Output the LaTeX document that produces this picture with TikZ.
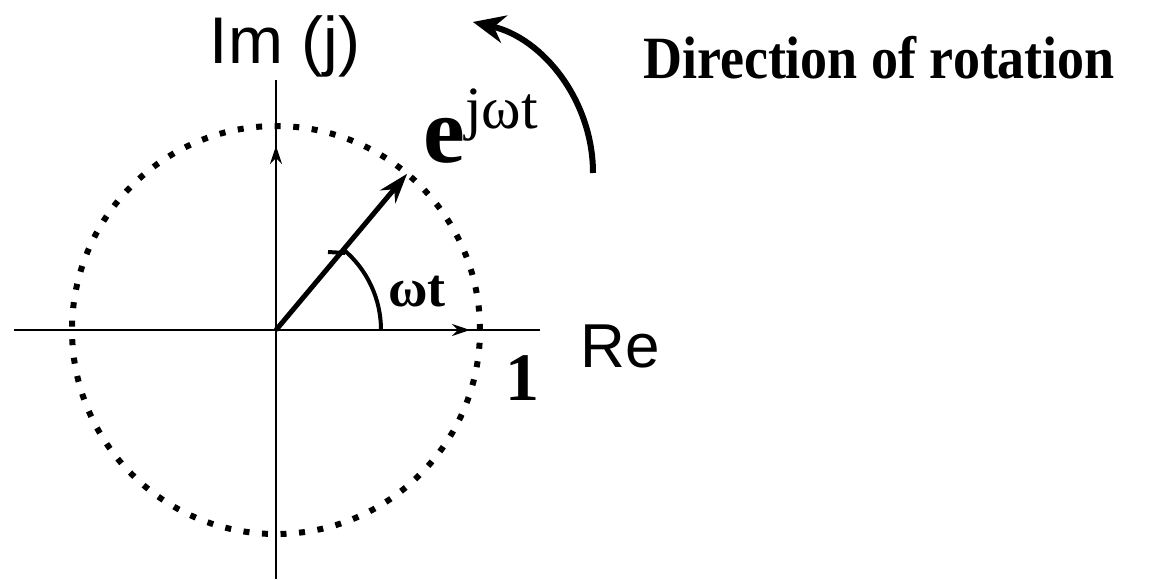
\documentclass[tikz,border=0pt]{standalone}
\usepackage{fontspec}
\usepackage{graphicx}
\usetikzlibrary{arrows.meta}
\newfontfamily\labelsans{Liberation Sans}
\newfontfamily\labelserif{Liberation Serif}
\tikzset{
  axis line/.style={
    line width=1.2pt
  },
  axis tip/.style={
    -{Stealth[length=9pt,width=6pt]},
    line width=1.2pt
  },
  phasor/.style={
    -{Stealth[length=15pt,width=10pt]},
    line width=2.5pt
  },
  unit circle/.style={
    line width=3pt,
    dash pattern=on 3pt off 6.288pt
  },
  angle arc/.style={
    line width=2pt
  },
  turn arrow/.style={
    -{Stealth[length=16pt,width=14pt]},
    line width=3pt
  },
  sans label/.style={
    inner sep=0pt,
    font=\labelsans\fontsize{33}{33}\selectfont
  },
  serif label/.style={
    inner sep=0pt,
    font=\labelserif\bfseries\fontsize{27}{27}\selectfont
  }
}
\begin{document}
\begin{tikzpicture}[x=0.5pt, y=0.5pt]
    \useasboundingbox (-276,-249) rectangle (895,330);

    % axes
    \coordinate (O) at (0,0);
    \coordinate (xl) at (-262,0);
    \coordinate (xr) at (264,0);
    \coordinate (yb) at (0,-249);
    \coordinate (yt) at (0,250);
    \coordinate (xtip) at (194,0);
    \coordinate (ytip) at (0,184);
    \draw[axis line] (xl) -- (xr);
    \draw[axis line] (yb) -- (yt);
    \draw[axis tip] (O) -- (xtip);
    \draw[axis tip] (O) -- (ytip);

    % unit circle
    \draw[unit circle] (O) circle[radius=204];

    % rotating phasor and its angle
    \coordinate (P) at (50:204);
    \draw[phasor] (O) -- (P);
    \draw[angle arc] (105,0) arc[start angle=0, end angle=50, radius=105];
    \draw[angle arc] (52,78) -- (69,77);

    % direction of rotation
    \draw[turn arrow] (317,157) arc[start angle=0, end angle=77, radius=155];

    % labels
    \node[sans label, anchor=base] (im) at (9,267) {Im (j)};
    \node[sans label, anchor=base, font=\labelsans\fontsize{31}{31}\selectfont] (re) at (344,-37) {Re};
    \node[serif label] (wt) at (141,38) {ωt};
    \node[serif label, font=\labelserif\bfseries\fontsize{34}{34}\selectfont] (one) at (246,-48) {1};
    \node[serif label, anchor=base west] (ejwt) at (147,168)
      {{\fontsize{47}{47}\selectfont e}\raisebox{17pt}{\mdseries\fontsize{30}{30}\selectfont jωt}};
    \node[serif label, anchor=base, font=\labelserif\bfseries\fontsize{30}{30}\selectfont] (dir) at (603,252)
      {\scalebox{0.9}[1]{Direction of rotation}};

\end{tikzpicture}
\end{document}
